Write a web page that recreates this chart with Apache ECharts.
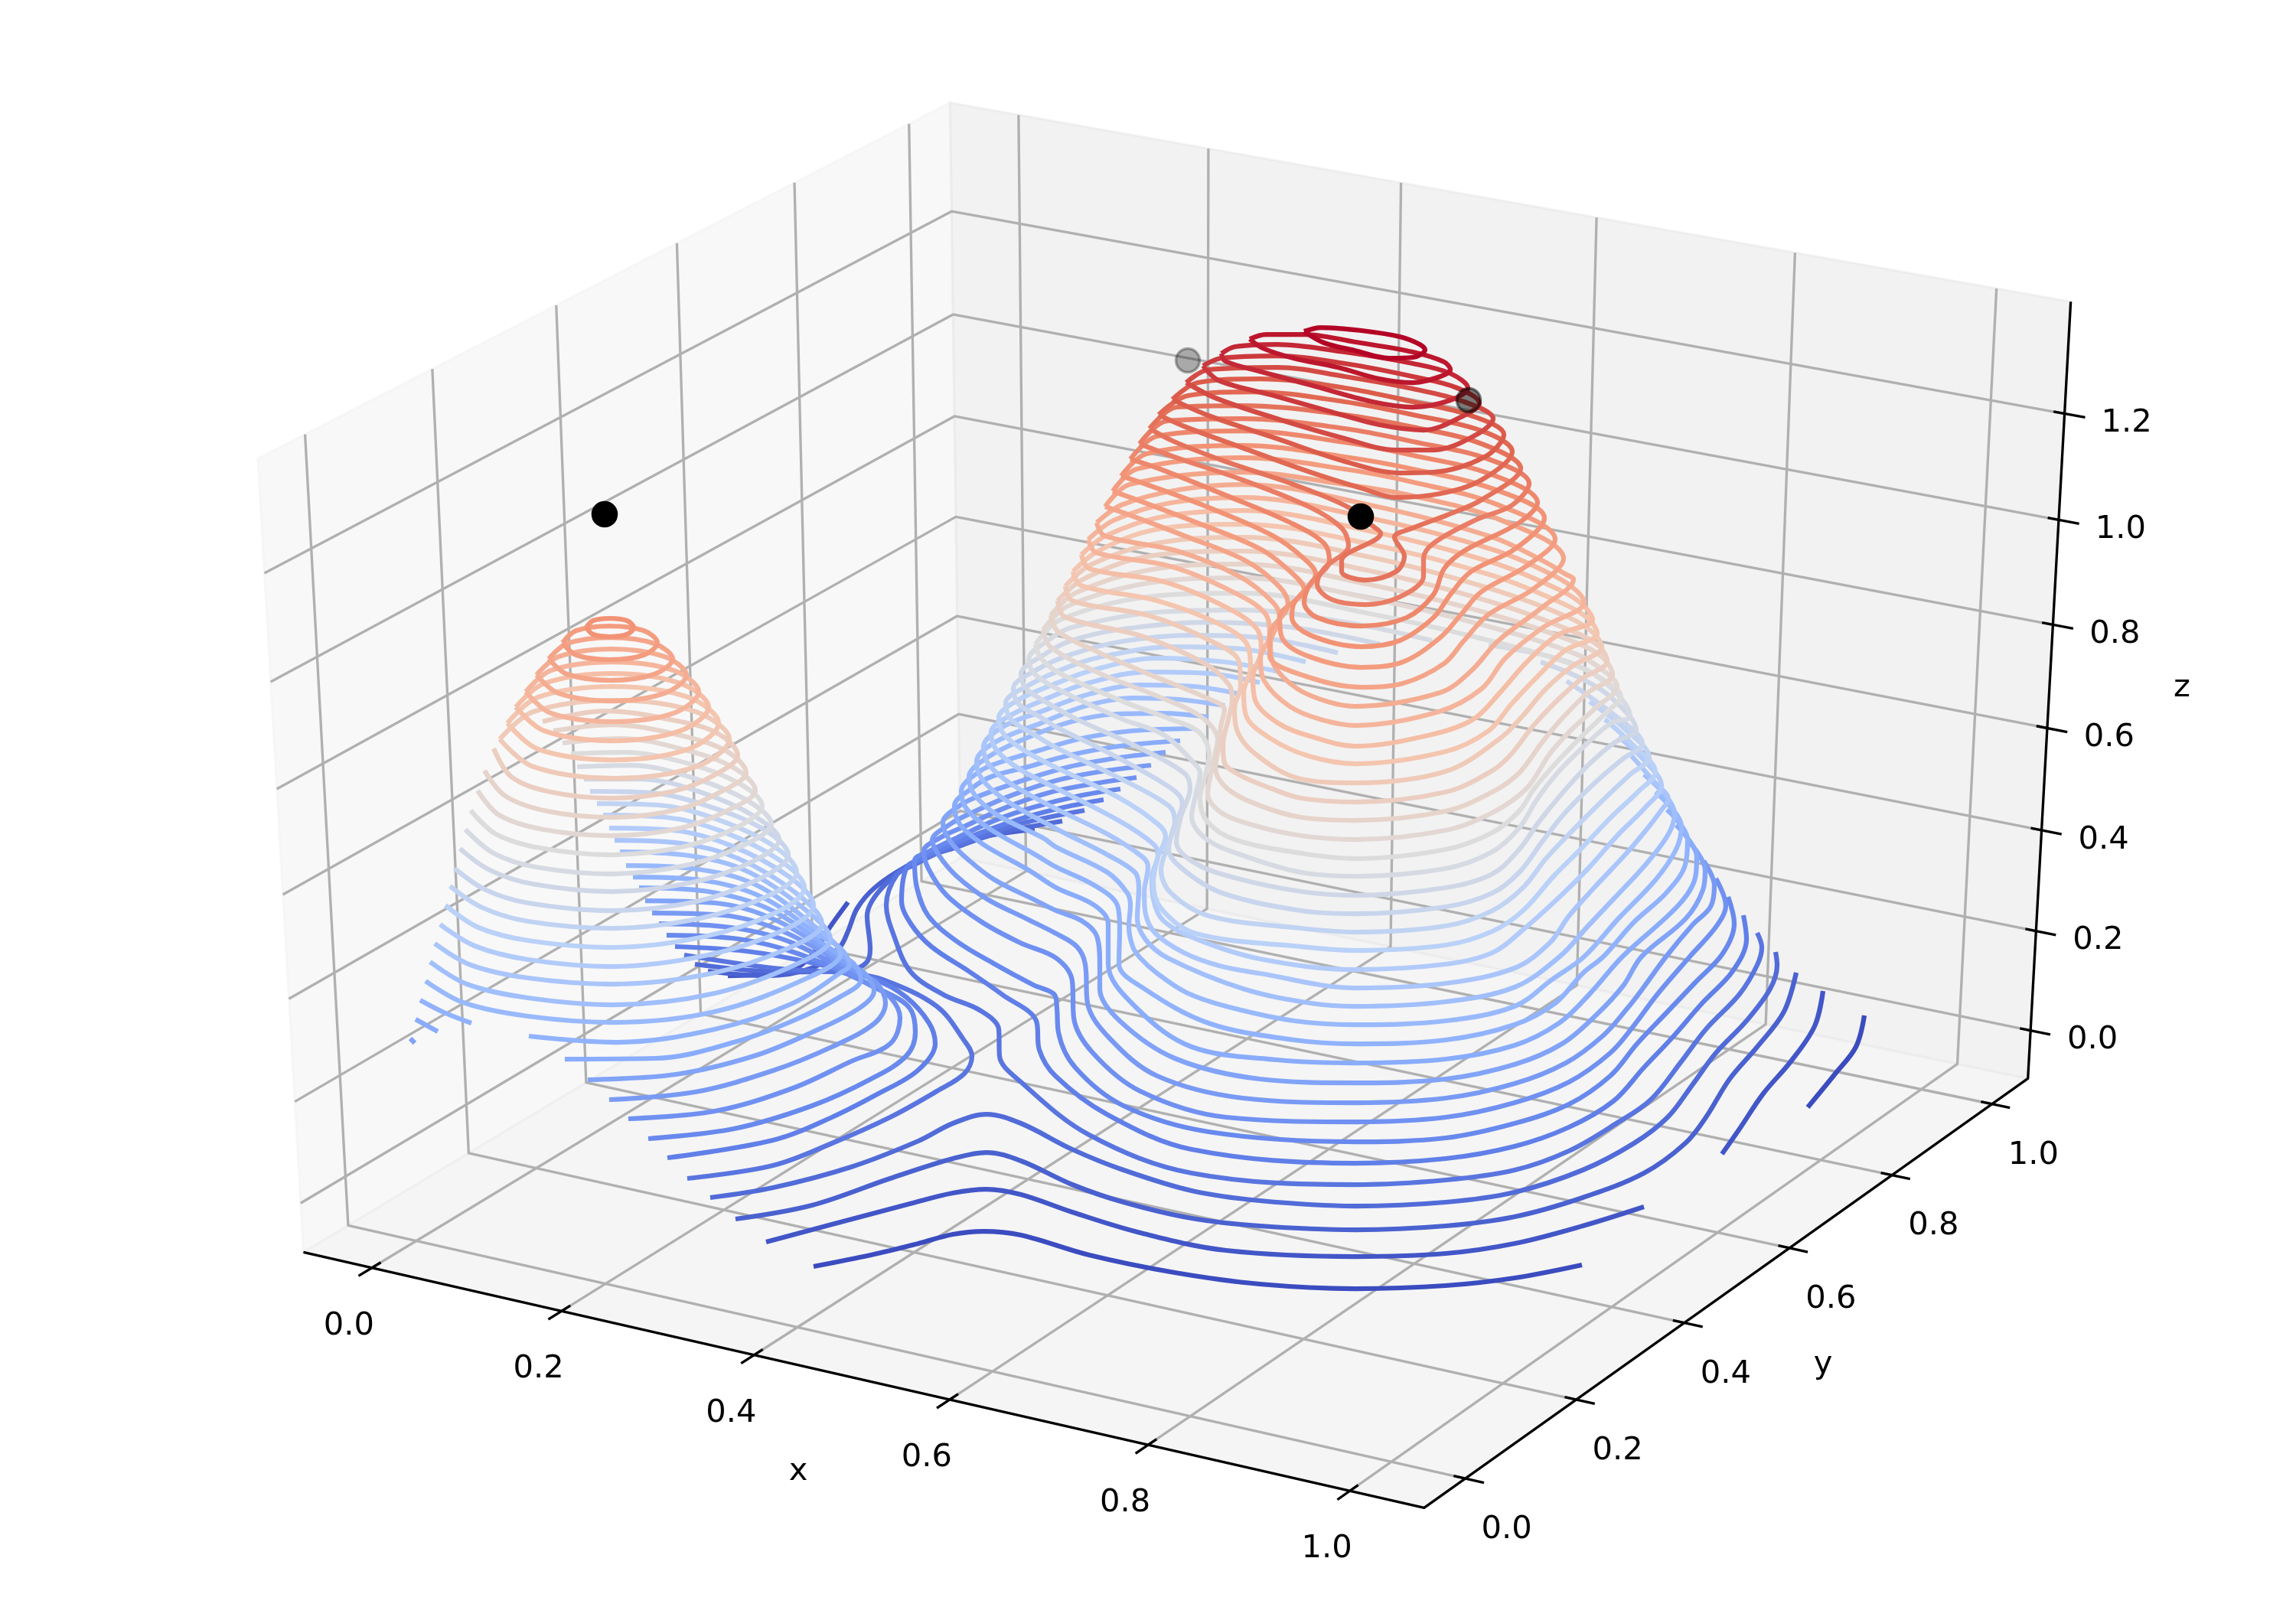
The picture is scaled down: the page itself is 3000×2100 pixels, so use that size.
<!DOCTYPE html>
<html><head><meta charset="utf-8">
<script src="https://cdn.jsdelivr.net/npm/echarts@6/dist/echarts.min.js"></script>
<style>html,body{margin:0;padding:0;background:#fff}#c{width:3000px;height:2100px}</style>
</head><body><div id="c"></div>
<script>
// axis ticks and limits
const xTicks=[0,0.2,0.4,0.6,0.8,1.0];
const yTicks=[0,0.2,0.4,0.6,0.8,1.0];
const zTicks=[0,0.2,0.4,0.6,0.8,1.0,1.2];
const xLim=[-0.0729,1.0729], yLim=[-0.0729,1.0729], zLim=[-0.0976,1.408];
const levelCount=43;
// contours, in view-plane coordinates (x1,y1,x2,y2,...)
const big1=[1063,1655,1138,1640,1200,1625,1245,1613,1285,1609,1334,1614,1423,1640,1535,1663,1646,1678,1771,1684,1889,1680,1979,1670,2067,1653];
const big1b=[2362,1447,2398,1403,2425,1368,2436,1327];
const big2=[1001,1623,1087,1600,1189,1573,1245,1559,1289,1554,1334,1561,1401,1584,1490,1611,1602,1634,1771,1642,1889,1638,1979,1625,2068,1602,2148,1577];
const big2b=[2250,1508,2273,1475,2304,1429,2340,1387,2371,1341,2382,1295];
const rear2=[951,1275,985,1274,1036,1267,1061,1248,1082,1215,1108,1179];
const big3=[961,1593,1061,1575,1163,1540,1245,1514,1289,1506,1334,1517,1401,1548,1468,1571,1557,1592,1646,1602,1771,1607,1889,1602,1979,1590,2068,1565,2148,1533,2202,1494,2229,1460,2260,1410,2296,1368,2331,1322,2347,1271];
const rear3=[925,1269,1000,1275,1061,1265,1097,1238,1108,1217,1120,1187,1143,1160,1183,1133,1223,1115,1283,1094,1352,1084];
const big4=[928,1565,1010,1552,1112,1525,1200,1491,1245,1468,1289,1456,1334,1468,1401,1502,1468,1529,1557,1556,1646,1569,1771,1576,1889,1571,1979,1558,2068,1529,2135,1494,2179,1460,2211,1418,2242,1376,2282,1334,2313,1292,2322,1261,2320,1244];
const rear4=[908,1260,980,1268,1050,1270,1110,1268,1132,1258,1137,1240,1133,1197,1150,1163,1193,1127,1250,1107,1300,1090,1388,1073];
const big5=[1417,1059,1370,1068,1320,1080,1270,1098,1225,1115,1195,1130,1172,1143,1158,1183,1167,1220,1190,1270,1233,1300,1280,1320,1305,1345,1306,1380,1334,1414,1423,1483,1557,1533,1771,1548,1889,1542,1979,1529,2050,1504,2112,1468,2157,1437,2197,1387,2229,1345,2273,1299,2296,1261,2302,1238,2296,1219];
const big6=[1442,1045,1390,1055,1340,1068,1290,1085,1240,1105,1205,1122,1185,1133,1178,1177,1190,1207,1217,1237,1267,1270,1310,1300,1354,1334,1358,1372,1379,1406,1446,1456,1557,1502,1771,1520,1889,1514,1979,1498,2050,1473,2108,1439,2148,1395,2184,1357,2224,1311,2264,1269,2282,1227,2278,1196];
const big7=[1464,1031,1410,1040,1350,1055,1300,1072,1250,1095,1215,1112,1195,1125,1198,1160,1213,1197,1250,1230,1300,1260,1350,1287,1378,1300,1381,1318,1383,1349,1405,1395,1468,1445,1579,1479,1771,1492,1889,1487,1979,1468,2050,1443,2104,1406,2139,1364,2175,1326,2215,1284,2251,1246,2266,1207,2258,1172];
const big8=[1485,1016,1430,1024,1370,1036,1310,1057,1260,1080,1228,1095,1207,1112,1213,1135,1237,1170,1283,1205,1333,1232,1380,1252,1401,1282,1403,1330,1428,1376,1490,1426,1602,1460,1771,1466,1889,1460,1979,1441,2050,1414,2104,1376,2135,1340,2165,1300,2208,1250,2243,1210,2255,1183,2242,1148];
const big9=[1504,1000,1440,1008,1380,1020,1320,1040,1270,1062,1240,1078,1218,1098,1227,1118,1250,1145,1290,1175,1340,1200,1380,1220,1407,1237,1418,1260,1421,1311,1450,1357,1512,1406,1624,1435,1771,1441,1889,1435,1979,1416,2046,1389,2095,1353,2126,1318,2144,1295,2177,1250,2212,1208,2235,1185,2240,1157,2226,1125];
const big10=[1523,983,1463,990,1397,1002,1330,1022,1280,1040,1255,1052,1232,1075,1242,1100,1267,1125,1300,1150,1350,1175,1380,1190,1413,1203,1433,1223,1437,1260,1437,1292,1463,1334,1535,1383,1646,1410,1771,1415,1889,1410,1979,1391,2041,1364,2086,1326,2121,1288,2145,1250,2203,1200,2225,1163,2228,1137,2207,1100];
const big11=[1542,968,1463,975,1397,987,1340,1003,1295,1015,1270,1030,1247,1053,1254,1077,1284,1103,1344,1137,1380,1160,1430,1183,1448,1207,1448,1260,1486,1318,1557,1368,1669,1385,1771,1389,1889,1384,1979,1366,2037,1337,2077,1299,2120,1250,2193,1183,2215,1147,2217,1120,2190,1078];
const big12=[1561,952,1480,955,1413,965,1360,980,1310,995,1280,1008,1256,1034,1263,1057,1293,1083,1353,1117,1380,1133,1430,1157,1460,1183,1463,1213,1462,1260,1495,1292,1579,1337,1691,1359,1771,1364,1889,1359,1979,1339,2032,1311,2068,1272,2095,1250,2135,1205,2177,1167,2202,1130,2205,1097,2178,1058];
const big13=[1579,937,1520,932,1460,933,1400,943,1340,965,1290,990,1266,1015,1273,1038,1303,1065,1363,1095,1380,1107,1447,1140,1473,1167,1477,1183,1475,1210,1480,1237,1490,1252,1512,1272,1550,1297,1602,1315,1691,1334,1771,1339,1889,1334,1979,1315,2028,1280,2070,1250,2115,1200,2163,1150,2190,1110,2197,1080,2163,1035];
const big14=[1600,922,1540,914,1480,912,1420,922,1360,945,1300,970,1276,995,1283,1018,1313,1045,1380,1083,1447,1117,1483,1140,1488,1160,1486,1200,1497,1228,1526,1252,1624,1292,1713,1311,1771,1315,1889,1309,1979,1290,2038,1250,2075,1210,2110,1173,2150,1130,2180,1090,2188,1063,2148,1012];
const big15=[1620,907,1560,897,1490,895,1420,908,1360,930,1310,950,1285,976,1292,999,1322,1025,1380,1057,1447,1090,1493,1120,1500,1133,1495,1167,1497,1195,1510,1220,1547,1245,1593,1262,1646,1272,1771,1291,1889,1285,1979,1265,2025,1232,2050,1197,2083,1160,2127,1113,2157,1077,2172,1057,2180,1045,2160,1020,2132,988];
const big16=[1646,892,1580,880,1500,878,1420,893,1370,912,1320,935,1295,957,1302,980,1332,1005,1380,1030,1463,1073,1507,1103,1513,1117,1505,1147,1507,1175,1520,1203,1563,1227,1646,1253,1771,1267,1889,1260,1950,1245,1990,1215,2040,1170,2075,1135,2115,1090,2150,1055,2171,1027,2145,990,2115,963];
const big17=[1672,878,1600,865,1511,860,1430,875,1380,893,1330,915,1305,938,1312,960,1342,983,1380,1003,1463,1043,1513,1077,1523,1093,1513,1120,1507,1153,1517,1187,1563,1220,1700,1237,1771,1242,1889,1235,1950,1217,1990,1190,2030,1145,2065,1110,2105,1068,2140,1035,2163,1009,2130,970,2097,940];
const big18=[1706,865,1623,848,1533,845,1445,857,1400,870,1345,895,1314,919,1321,940,1351,960,1380,977,1463,1017,1527,1053,1535,1073,1525,1107,1517,1137,1530,1167,1580,1197,1700,1213,1771,1218,1889,1210,1950,1190,1990,1160,2020,1122,2055,1085,2095,1045,2130,1012,2155,990,2120,950,2077,917];
const big19=[1748,853,1645,833,1556,830,1467,838,1400,855,1355,875,1324,900,1331,920,1361,938,1380,950,1447,983,1530,1030,1545,1050,1533,1083,1527,1110,1547,1137,1597,1167,1700,1190,1771,1194,1889,1185,1950,1167,1985,1140,2015,1100,2045,1062,2085,1022,2120,992,2146,972,2110,935,2047,890];
const big20=[1804,842,1690,820,1579,813,1467,822,1400,837,1365,855,1334,881,1341,900,1371,920,1407,940,1480,973,1547,1010,1555,1030,1543,1067,1537,1100,1560,1127,1613,1147,1700,1165,1771,1170,1889,1160,1950,1142,1985,1110,2010,1075,2040,1038,2075,1000,2110,970,2138,954,2107,913,2067,887,2013,865];
const big21=[1871,837,1757,813,1623,797,1512,800,1400,820,1372,835,1344,862,1351,880,1381,900,1467,940,1520,960,1560,997,1568,1010,1562,1040,1557,1067,1577,1097,1630,1120,1700,1140,1771,1145,1889,1135,1950,1113,1985,1082,2008,1045,2035,1010,2070,975,2105,945,2130,936,2095,890,2040,862,1945,843];
const big22=[1353,842,1385,810,1500,780,1623,775,1790,802,1950,838,2060,870,2105,895,2118,910,2100,930,2067,962,2035,995,2005,1030,1985,1060,1950,1088,1889,1110,1771,1122,1700,1115,1613,1097,1577,1073,1568,1043,1575,1013,1580,987,1567,957,1530,940,1468,917,1385,880,1360,860,1353,842];
const big23=[1363,823,1395,792,1500,762,1623,755,1790,782,1950,820,2060,855,2100,880,2113,897,2085,925,2052,955,2025,985,1995,1030,1950,1062,1889,1085,1771,1097,1700,1092,1633,1077,1593,1060,1578,1037,1583,1007,1588,983,1591,967,1570,937,1513,910,1437,880,1372,845,1363,823];
const big24=[1373,804,1405,775,1500,745,1623,737,1790,764,1950,803,2060,840,2095,860,2107,882,2075,905,2040,940,2015,970,1985,1010,1950,1035,1889,1060,1771,1072,1700,1068,1647,1053,1603,1030,1588,1003,1593,973,1595,950,1600,927,1579,913,1499,880,1430,850,1382,825,1373,804];
const big25=[1382,785,1415,757,1500,727,1623,720,1790,746,1950,787,2055,825,2090,845,2100,864,2065,888,2030,920,2002,950,1975,985,1950,1007,1889,1035,1771,1048,1700,1043,1660,1030,1620,1013,1600,997,1598,973,1605,940,1610,915,1606,895,1574,867,1494,832,1391,806,1382,785];
const big26=[1392,766,1425,738,1510,710,1623,702,1790,728,1950,770,2050,807,2083,828,2093,846,2055,870,2020,900,1990,935,1960,965,1889,1008,1771,1023,1700,1018,1640,985,1615,950,1613,925,1621,897,1619,865,1583,838,1503,805,1401,785,1392,766];
const big27=[1402,747,1435,720,1510,692,1623,685,1790,711,1950,752,2045,790,2077,810,2087,828,2045,850,2008,885,1975,920,1945,955,1889,982,1771,998,1710,988,1660,965,1628,935,1625,905,1634,873,1630,843,1592,815,1512,785,1412,765,1402,747];
const big28=[1413,725,1445,700,1520,675,1623,667,1790,694,1950,735,2040,772,2070,792,2081,810,2035,830,1995,865,1960,905,1925,940,1870,960,1771,975,1715,963,1670,945,1640,915,1637,885,1648,850,1643,823,1601,793,1520,760,1423,743,1413,725];
const big29=[1422,705,1455,680,1530,657,1623,650,1790,677,1950,718,2030,752,2060,772,2070,787,2016,820,1967,860,1936,900,1880,930,1771,948,1725,940,1685,923,1652,890,1647,860,1659,830,1654,803,1610,773,1529,740,1432,722,1422,705];
const big30=[1433,683,1465,660,1540,640,1623,633,1790,660,1950,702,2020,735,2045,750,2056,757,2016,793,1958,837,1922,877,1882,905,1771,923,1735,917,1695,900,1665,870,1660,840,1672,807,1663,787,1619,753,1538,720,1443,700,1433,683];
const big31=[1444,662,1476,633,1623,617,1757,633,1846,648,1962,680,2043,730,2003,770,1945,803,1913,837,1887,867,1833,893,1779,898,1704,883,1659,857,1659,830,1683,790,1672,767,1628,733,1547,700,1476,673,1444,662];
const big32=[1454,642,1485,613,1623,598,1757,613,1846,630,1958,660,2032,705,1994,740,1936,773,1909,803,1882,833,1833,865,1779,872,1708,857,1675,833,1672,807,1704,770,1686,747,1646,717,1556,680,1485,653,1454,642];
const big33=[1465,622,1498,593,1623,582,1757,597,1846,613,1954,640,2018,677,1980,717,1922,747,1895,777,1873,807,1829,837,1779,845,1712,830,1688,807,1690,790,1719,750,1704,730,1663,700,1579,663,1498,633,1465,622];
const big34=[1477,600,1512,570,1623,563,1757,578,1846,595,1949,620,2009,657,1985,683,1913,720,1887,743,1873,777,1838,807,1779,818,1721,807,1704,787,1712,763,1737,733,1730,710,1686,683,1601,647,1516,613,1477,600];
const big35=[1489,580,1525,550,1623,547,1757,560,1846,577,1945,600,1998,632,1976,660,1927,680,1873,710,1860,730,1860,753,1829,780,1784,790,1739,783,1721,763,1730,743,1762,713,1753,690,1712,663,1623,627,1534,597,1489,580];
const big36=[1502,560,1538,532,1623,530,1757,542,1846,558,1936,580,1987,612,1936,653,1891,673,1846,690,1822,702,1835,727,1824,747,1784,758,1753,747,1753,733,1804,697,1793,687,1762,663,1690,633,1601,603,1534,577,1502,560];
const big37=[1514,542,1552,517,1637,512,1757,525,1846,542,1936,563,1976,590,1936,627,1882,645,1824,650,1779,638,1712,617,1623,585,1547,557,1514,542];
const big38=[1532,522,1565,500,1646,495,1757,507,1846,525,1922,543,1965,568,1940,597,1873,617,1829,618,1757,603,1668,573,1579,543,1532,522];
const big39=[1550,500,1579,483,1668,480,1757,492,1846,508,1913,525,1951,547,1931,567,1873,588,1824,588,1757,573,1668,547,1588,520,1550,500];
const big40=[1572,478,1596,468,1668,465,1757,475,1846,492,1904,507,1933,527,1913,543,1860,562,1802,555,1735,537,1668,518,1592,497,1572,478];
const big41=[1596,462,1614,453,1668,450,1757,460,1846,475,1895,488,1918,507,1895,523,1846,532,1793,525,1712,503,1645,485,1601,472,1596,462];
const big42=[1633,443,1654,437,1704,437,1771,447,1846,460,1887,473,1895,483,1882,492,1846,500,1802,495,1748,480,1690,468,1650,455,1633,443];
const big43=[1704,433,1726,428,1779,432,1829,440,1855,450,1862,457,1846,467,1815,468,1770,458,1730,448,1704,433];
// left peak
const left5=[898,1540,1010,1523,1087,1494,1163,1460,1224,1426,1260,1403,1270,1380,1260,1360,1224,1315,1153,1280,1112,1272,1010,1265,894,1248];
const left6=[872,1513,1010,1490,1087,1460,1148,1429,1199,1399,1222,1364,1214,1337,1184,1303,1143,1280,1060,1258,975,1243,882,1237];
const left7=[847,1488,959,1475,1061,1445,1138,1410,1184,1380,1196,1349,1189,1318,1158,1297,1045,1247,965,1227,871,1222];
const left8=[821,1462,934,1452,1036,1422,1112,1387,1163,1364,1176,1330,1163,1303,1138,1288,1035,1232,955,1212,861,1207];
const left9=[796,1437,908,1427,1010,1399,1087,1368,1143,1337,1157,1311,1145,1284,1122,1272,1025,1218,945,1196,852,1193];
const left10=[768,1411,883,1404,985,1380,1061,1349,1122,1318,1142,1295,1130,1272,1105,1258,1015,1203,935,1180,843,1177];
const left10b=[536,1357,542,1363];
const left11=[738,1384,857,1383,959,1362,1036,1334,1097,1303,1125,1280,1115,1259,1090,1243,1005,1188,925,1165,835,1160];
const left11b=[543,1332,572,1348];
const left12=[691,1354,806,1362,934,1345,1036,1311,1097,1272,1110,1261,1097,1238,1075,1225,995,1172,915,1150,827,1146];
const left12b=[549,1307,580,1323,616,1337];
const left13=[556,1282,605,1310,690,1328,801,1336,934,1322,1055,1278,1098,1247,1060,1207,985,1155,905,1135,818,1131];
const left14=[562,1257,610,1286,690,1304,801,1313,934,1298,1045,1258,1085,1227,1050,1187,975,1138,900,1118,810,1113];
const left15=[568,1233,615,1261,690,1278,799,1286,930,1272,1035,1237,1074,1207,1040,1167,965,1122,890,1102,803,1098];
const left16=[575,1208,620,1236,690,1254,799,1263,925,1248,1025,1215,1063,1183,1030,1145,955,1105,880,1085,796,1082];
const left17=[582,1183,625,1212,690,1229,799,1238,920,1224,1015,1192,1051,1160,1020,1125,945,1087,870,1068,788,1065];
const left18=[588,1158,630,1186,690,1204,799,1213,915,1200,1005,1170,1041,1140,1010,1105,935,1070,860,1052,780,1050];
const left19=[594,1135,635,1163,690,1180,799,1190,910,1178,995,1147,1030,1117,1000,1085,924,1053,850,1036,771,1034];
const left20=[601,1109,640,1137,695,1155,799,1165,905,1153,985,1125,1018,1097,988,1068,915,1035,835,1018,763,1018];
const left21=[608,1084,645,1115,700,1133,799,1142,900,1130,975,1103,1008,1077,978,1047,910,1018,825,1000,754,1002];
const left22=[615,1059,648,1090,705,1108,799,1117,895,1106,965,1080,996,1053,968,1025,900,998,815,983,746,985];
const left23=[624,1033,652,1065,710,1084,799,1092,890,1082,955,1057,987,1033,960,1004,895,980,810,965,735,971];
const left24=[633,1007,660,1040,715,1060,799,1068,885,1058,945,1033,975,1010,950,982,885,960,800,947,723,955];
const left25=[645,978,668,1015,720,1035,799,1043,880,1034,935,1012,964,987,937,958,879,941,790,929,709,943];
const left26=[653,966,697,1002,803,1017,909,1002,953,966,909,930,803,915,697,930,653,966];
const left27=[663,945,703,979,801,993,899,979,939,945,899,911,801,897,703,911,663,945];
const left28=[674,924,711,955,800,968,889,955,926,924,889,893,800,880,711,893,674,924];
const left29=[687,904,720,932,800,943,880,932,913,904,880,876,800,865,720,876,687,904];
const left30=[701,882,730,906,799,916,868,906,897,882,868,858,799,848,730,858,701,882];
const left31=[717,861,741,881,798,889,855,881,879,861,855,841,798,833,741,841,717,861];
const left32=[735,840,753,856,797,862,841,856,859,840,841,824,797,818,753,824,735,840];
const left33=[766,820,775,829,797,832,819,829,828,820,819,811,797,808,775,811,766,820];
// observed points: view x, view y, opacity
const pointsX=[790,1778,1552,1919];
const pointsY=[672,675,471,523];
const pointsAlpha=[1,1,0.3,0.5];

const contourPaths=[
[1,big1],[1,big1b],[2,big2],[2,big2b],[2,rear2],[3,big3],[3,rear3],[4,big4],[4,rear4],
[5,left5],[5,big5],[6,left6],[6,big6],[7,left7],[7,big7],[8,left8],[8,big8],[9,left9],[9,big9],
[10,left10],[10,left10b],[10,big10],[11,left11],[11,left11b],[11,big11],[12,left12],[12,left12b],[12,big12],
[13,left13],[13,big13],[14,left14],[14,big14],[15,left15],[15,big15],[16,left16],[16,big16],[17,left17],[17,big17],
[18,left18],[18,big18],[19,left19],[19,big19],[20,left20],[20,big20],[21,left21],[21,big21],[22,left22],[22,big22],
[23,left23],[23,big23],[24,left24],[24,big24],[25,left25],[25,big25],[26,left26],[26,big26],[27,left27],[27,big27],
[28,left28],[28,big28],[29,left29],[29,big29],[30,left30],[30,big30],[31,left31],[31,big31],[32,left32],[32,big32],
[33,left33],[33,big33],[34,big34],[35,big35],[36,big36],[37,big37],[38,big38],[39,big39],[40,big40],[41,big41],[42,big42],[43,big43]];

const coolwarm=['#3b4cc0','#6282ea','#8db0fe','#b8d0f9','#dddcdc','#f5c4ad','#f4987a','#de604d','#b40426'];

// perspective view of the unit box
function proj(tx,ty,tz){
  const a=tx-.5,b=ty-.5,c=tz-.5;
  const u=.866025*a+.5*b, v=-.25*a+.433013*b+.866025*c, w=.433013*a-.75*b+.5*c, d=10-w;
  return [1540.5+16903*u/d, 1021-11840*v/d];
}
const nx=v=>(v-xLim[0])/(xLim[1]-xLim[0]), ny=v=>(v-yLim[0])/(yLim[1]-yLim[0]), nz=v=>(v-zLim[0])/(zLim[1]-zLim[0]);
function lineSeries(pts,color,width,smooth){
  return {type:'line',data:pts,showSymbol:false,symbol:'none',silent:true,animation:false,clip:false,smooth:smooth||false,
    lineStyle:{color:color,width:width,cap:'butt',join:'round'}};
}
const GRID='#b0b0b0',GW=3.33;
const series=[];
// panes
const panes=[
 {pts:[[0,0,0],[0,1,0],[0,1,1],[0,0,1]],c:'rgba(242,242,242,0.5)'},
 {pts:[[0,1,0],[1,1,0],[1,1,1],[0,1,1]],c:'rgba(230,230,230,0.5)'},
 {pts:[[0,0,0],[1,0,0],[1,1,0],[0,1,0]],c:'rgba(236,236,236,0.5)'}];
series.push({type:'custom',silent:true,animation:false,coordinateSystem:'cartesian2d',
  data:panes.map((p,i)=>[i]),
  renderItem:(params,api)=>{const p=panes[api.value(0)];
    return {type:'polygon',shape:{points:p.pts.map(q=>api.coord(proj(q[0],q[1],q[2])))},style:{fill:p.c,stroke:p.c,lineWidth:3}};}});
// grid lines
xTicks.forEach(x=>{const t=nx(x);series.push(lineSeries([proj(t,0,0),proj(t,1,0),proj(t,1,1)],GRID,GW));});
yTicks.forEach(y=>{const t=ny(y);series.push(lineSeries([proj(1,t,0),proj(0,t,0),proj(0,t,1)],GRID,GW));});
zTicks.forEach(z=>{const t=nz(z);series.push(lineSeries([proj(1,1,t),proj(0,1,t),proj(0,0,t)],GRID,GW));});
// axes
series.push(lineSeries([proj(0,0,0),proj(1,0,0),proj(1,1,0),proj(1,1,1)],'#000',GW));
xTicks.forEach(x=>{const t=nx(x);series.push(lineSeries([proj(t,-0.019,0),proj(t,0.0127,0)],'#000',GW));});
yTicks.forEach(y=>{const t=ny(y);series.push(lineSeries([proj(0.99,t,0),proj(1.016,t,0)],'#000',GW));});
zTicks.forEach(z=>{const t=nz(z);series.push(lineSeries([proj(0.9905,1,t),proj(1.0177,1,t)],'#000',GW));});
// contours
contourPaths.forEach(([lev,flat])=>{
  const pts=[];for(let i=0;i<flat.length;i+=2)pts.push([flat[i],flat[i+1]]);
  const t=(lev-1)/(levelCount-1);
  series.push(lineSeries(pts,echarts.color.lerp(t,coolwarm),6.25,0.35));
});
// points
pointsX.forEach((x,i)=>{
  const a=pointsAlpha[i];
  series.push({type:'scatter',z:20,silent:true,animation:false,data:[[x,pointsY[i]]],symbol:'circle',symbolSize:31,
    itemStyle:{opacity:1,color:'rgba(0,0,0,'+a+')',borderColor:'rgba(0,0,0,'+a+')',borderWidth:3.5}});
});
// text
const texts=[];
xTicks.forEach(x=>{const p=proj(nx(x),0,0);texts.push([p[0]-30,p[1]+76,x.toFixed(1)]);});
yTicks.forEach(y=>{const p=proj(1,ny(y),0);texts.push([p[0]+54,p[1]+67,y.toFixed(1)]);});
zTicks.forEach(z=>{const p=proj(1,1,nz(z));texts.push([p[0]+81,p[1]+13,z.toFixed(1)]);});
texts.push([1043,1923,'x'],[2382,1783,'y'],[2851,899,'z']);
series.push({type:'custom',z:20,silent:true,animation:false,coordinateSystem:'cartesian2d',data:texts,
  renderItem:(params,api)=>{const c=api.coord([api.value(0),api.value(1)]);
    return {type:'text',style:{x:c[0],y:c[1],text:texts[params.dataIndex][2],fill:'#000',align:'center',verticalAlign:'middle',
      textAlign:'center',textVerticalAlign:'middle',font:'41.67px "DejaVu Sans"'}};},
  encode:{x:0,y:1}});

const chart=echarts.init(document.getElementById('c'),null,{width:3000,height:2100,renderer:'canvas'});
chart.setOption({animation:false,backgroundColor:'#fff',
  grid:{left:0,right:0,top:0,bottom:0},
  xAxis:{type:'value',min:0,max:3000,show:false},
  yAxis:{type:'value',min:0,max:2100,inverse:true,show:false},
  series});
</script></body></html>
